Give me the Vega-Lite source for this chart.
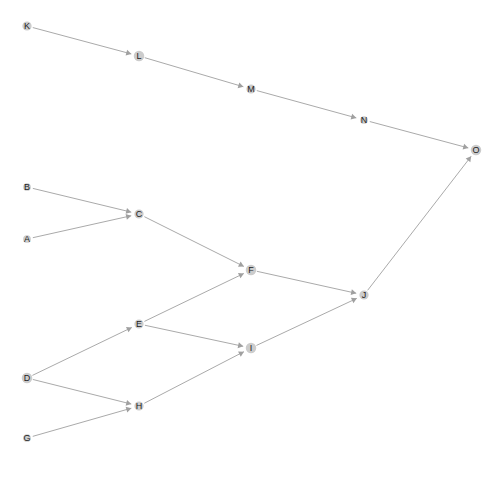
{
"$schema":"https://vega.github.io/schema/vega-lite/v6.json",
"width":504,"height":460,"padding":0,"autosize":"none",
"background":"white",
"config":{"view":{"stroke":null}},
"datasets":{
"nodes":[
{"name":"K","x":27,"y":26,"grp":"(0.6,0.667]"},
{"name":"L","x":139,"y":56,"grp":"(0.667,1]"},
{"name":"M","x":251,"y":89,"grp":"(0.6,0.667]"},
{"name":"N","x":364,"y":120,"grp":"[0.333,0.6]"},
{"name":"O","x":476,"y":150,"grp":"(0.667,1]"},
{"name":"B","x":27,"y":187,"grp":"[0.333,0.6]"},
{"name":"C","x":139,"y":214,"grp":"(0.6,0.667]"},
{"name":"A","x":27,"y":239,"grp":"[0.333,0.6]"},
{"name":"F","x":251,"y":270,"grp":"(0.667,1]"},
{"name":"J","x":364,"y":295,"grp":"(0.6,0.667]"},
{"name":"E","x":139,"y":324,"grp":"(0.6,0.667]"},
{"name":"I","x":251,"y":348,"grp":"(0.667,1]"},
{"name":"D","x":27,"y":378,"grp":"(0.667,1]"},
{"name":"H","x":139,"y":406,"grp":"(0.6,0.667]"},
{"name":"G","x":27,"y":438,"grp":"[0.333,0.6]"}
],
"edges":[
{"from":"K","to":"L"},{"from":"L","to":"M"},{"from":"M","to":"N"},{"from":"N","to":"O"},
{"from":"B","to":"C"},{"from":"A","to":"C"},{"from":"C","to":"F"},{"from":"F","to":"J"},
{"from":"J","to":"O"},{"from":"D","to":"E"},{"from":"E","to":"F"},{"from":"E","to":"I"},
{"from":"D","to":"H"},{"from":"G","to":"H"},{"from":"H","to":"I"},{"from":"I","to":"J"}
]},
"layer":[
{"data":{"name":"edges"},
 "transform":[
  {"lookup":"from","from":{"data":{"name":"nodes"},"key":"name","fields":["x","y"]},"as":["x1","y1"]},
  {"lookup":"to","from":{"data":{"name":"nodes"},"key":"name","fields":["x","y"]},"as":["x2","y2"]},
  {"calculate":"sqrt(pow(datum.x2-datum.x1,2)+pow(datum.y2-datum.y1,2))","as":"len"},
  {"calculate":"datum.x1+(datum.x2-datum.x1)*6/datum.len","as":"sx"},
  {"calculate":"datum.y1+(datum.y2-datum.y1)*6/datum.len","as":"sy"},
  {"calculate":"datum.x2-(datum.x2-datum.x1)*8/datum.len","as":"ex"},
  {"calculate":"datum.y2-(datum.y2-datum.y1)*8/datum.len","as":"ey"},
  {"calculate":"datum.x2-(datum.x2-datum.x1)*10.5/datum.len","as":"ax"},
  {"calculate":"datum.y2-(datum.y2-datum.y1)*10.5/datum.len","as":"ay"},
  {"calculate":"atan2(datum.x2-datum.x1,-(datum.y2-datum.y1))*180/PI","as":"ang"}
 ],
 "layer":[
  {"mark":{"type":"rule","color":"#aaaaaa","strokeWidth":1},
   "encoding":{"x":{"field":"sx","type":"quantitative","scale":{"domain":[0,504],"nice":false,"zero":false},"axis":null},
    "y":{"field":"sy","type":"quantitative","scale":{"domain":[0,460],"nice":false,"zero":false,"reverse":true},"axis":null},
    "x2":{"field":"ex"},"y2":{"field":"ey"}}},
  {"mark":{"type":"point","shape":"triangle-up","filled":true,"color":"#a0a0a0","opacity":1,"size":35},
   "encoding":{"x":{"field":"ax","type":"quantitative"},"y":{"field":"ay","type":"quantitative"},
    "angle":{"field":"ang","type":"quantitative","scale":null}}}
 ]},
{"data":{"name":"nodes"},
 "mark":{"type":"circle","fill":"#cccccc","color":"#cccccc","opacity":1},
 "encoding":{"x":{"field":"x","type":"quantitative"},"y":{"field":"y","type":"quantitative"},
  "size":{"field":"grp","type":"ordinal","sort":["[0.333,0.6]","(0.6,0.667]","(0.667,1]"],
   "scale":{"range":[60,110,150]},
   "legend":{"orient":"none","legendX":150,"legendY":472,"title":null,"direction":"horizontal","labelFont":"Liberation Sans","labelFontSize":9,"labelColor":"#333333","symbolFillColor":"#cccccc","symbolStrokeColor":"#cccccc","symbolOpacity":1,"columnPadding":12}}}},
{"data":{"name":"nodes"},
 "mark":{"type":"text","font":"Liberation Sans","fontSize":9,"color":"#222222"},
 "encoding":{"x":{"field":"x","type":"quantitative"},"y":{"field":"y","type":"quantitative"},"text":{"field":"name"}}}
]
}
